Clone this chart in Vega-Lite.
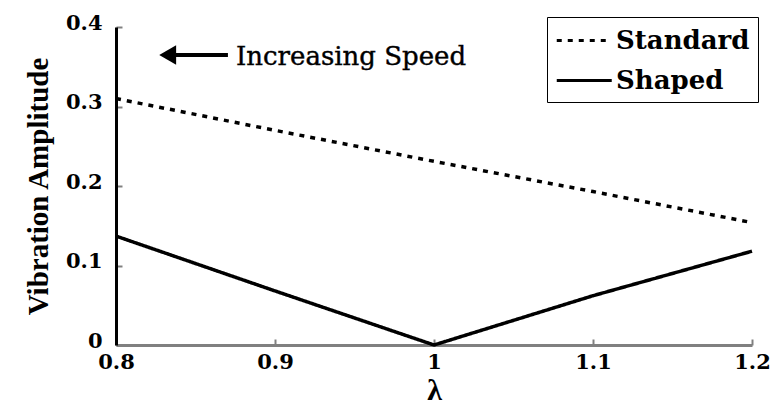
{
  "$schema": "https://vega.github.io/schema/vega-lite/v6.json",
  "width": 636,
  "height": 318,
  "autosize": "none",
  "padding": {"left": 116, "top": 27, "right": 19, "bottom": 65},
  "background": "white",
  "config": {"view": {"stroke": null}},
  "datasets": {
    "curves": [
      {"lambda": 0.8, "amp": 0.310, "series": "Standard"},
      {"lambda": 0.9, "amp": 0.270, "series": "Standard"},
      {"lambda": 1.0, "amp": 0.231, "series": "Standard"},
      {"lambda": 1.1, "amp": 0.193, "series": "Standard"},
      {"lambda": 1.2, "amp": 0.154, "series": "Standard"},
      {"lambda": 0.8, "amp": 0.137, "series": "Shaped"},
      {"lambda": 0.9, "amp": 0.068, "series": "Shaped"},
      {"lambda": 1.0, "amp": 0.0, "series": "Shaped"},
      {"lambda": 1.1, "amp": 0.062, "series": "Shaped"},
      {"lambda": 1.2, "amp": 0.118, "series": "Shaped"}
    ],
    "note": [{"label": "Increasing Speed"}]
  },
  "layer": [
    {
      "data": {"name": "curves"},
      "mark": {"type": "line", "strokeWidth": 3.5, "color": "black", "clip": false},
      "encoding": {
        "x": {
          "field": "lambda",
          "type": "quantitative",
          "title": "λ",
          "scale": {"domain": [0.8, 1.2], "nice": false, "zero": false},
          "axis": {
            "values": [0.8, 0.9, 1.0, 1.1, 1.2],
            "format": "~g",
            "grid": false,
            "domainColor": "#808080",
            "domainWidth": 3,
            "tickColor": "#808080",
            "tickWidth": 2,
            "tickSize": -6,
            "labelPadding": 12,
            "labelFont": "DejaVu Serif",
            "labelFontWeight": "bold",
            "labelFontSize": 21,
            "labelColor": "black",
            "labelFlush": false,
            "titleFont": "Liberation Serif",
            "titleFontWeight": "bold",
            "titleFontSize": 30,
            "titleColor": "black",
            "titlePadding": 3
          }
        },
        "y": {
          "field": "amp",
          "type": "quantitative",
          "title": "Vibration Amplitude",
          "scale": {"domain": [0, 0.4], "nice": false},
          "axis": {
            "values": [0, 0.1, 0.2, 0.3, 0.4],
            "format": "~g",
            "grid": false,
            "domainColor": "black",
            "domainWidth": 3,
            "tickColor": "#808080",
            "tickWidth": 2,
            "tickSize": -6,
            "labelPadding": 20,
            "labelOffset": -4,
            "labelFont": "DejaVu Serif",
            "labelFontWeight": "bold",
            "labelFontSize": 21,
            "labelColor": "black",
            "labelFlush": false,
            "titleFont": "Liberation Serif",
            "titleFontWeight": "bold",
            "titleFontSize": 29,
            "titleColor": "black",
            "titlePadding": 12
          }
        },
        "strokeDash": {
          "field": "series",
          "type": "nominal",
          "scale": {"domain": ["Standard", "Shaped"], "range": [[5, 6], [1, 0]]},
          "legend": {
            "title": null,
            "orient": "none",
            "legendX": 431,
            "legendY": -10,
            "strokeColor": "black",
            "padding": 8,
            "symbolType": "M-1,0H3",
            "symbolSize": 756,
            "symbolStrokeWidth": 3,
            "symbolStrokeColor": "black",
            "symbolFillColor": "transparent",
            "labelFont": "DejaVu Serif",
            "labelFontWeight": "bold",
            "labelFontSize": 26,
            "labelColor": "black",
            "labelOffset": 30,
            "rowPadding": 11
          }
        }
      }
    },
    {
      "data": {"name": "note"},
      "mark": {"type": "rule", "strokeWidth": 4, "color": "black"},
      "encoding": {
        "x": {"datum": 0.835},
        "x2": {"datum": 0.8704},
        "y": {"datum": 0.3648}
      }
    },
    {
      "data": {"name": "note"},
      "mark": {"type": "point", "shape": "triangle-left", "filled": true, "color": "black", "size": 380, "opacity": 1},
      "encoding": {
        "x": {"datum": 0.8325},
        "y": {"datum": 0.3648}
      }
    },
    {
      "data": {"name": "note"},
      "mark": {"type": "text", "align": "left", "baseline": "alphabetic", "font": "DejaVu Serif", "fontSize": 26, "color": "black", "stroke": "black", "strokeWidth": 0.4},
      "encoding": {
        "x": {"datum": 0.8755},
        "y": {"datum": 0.352},
        "text": {"field": "label"}
      }
    }
  ]
}
